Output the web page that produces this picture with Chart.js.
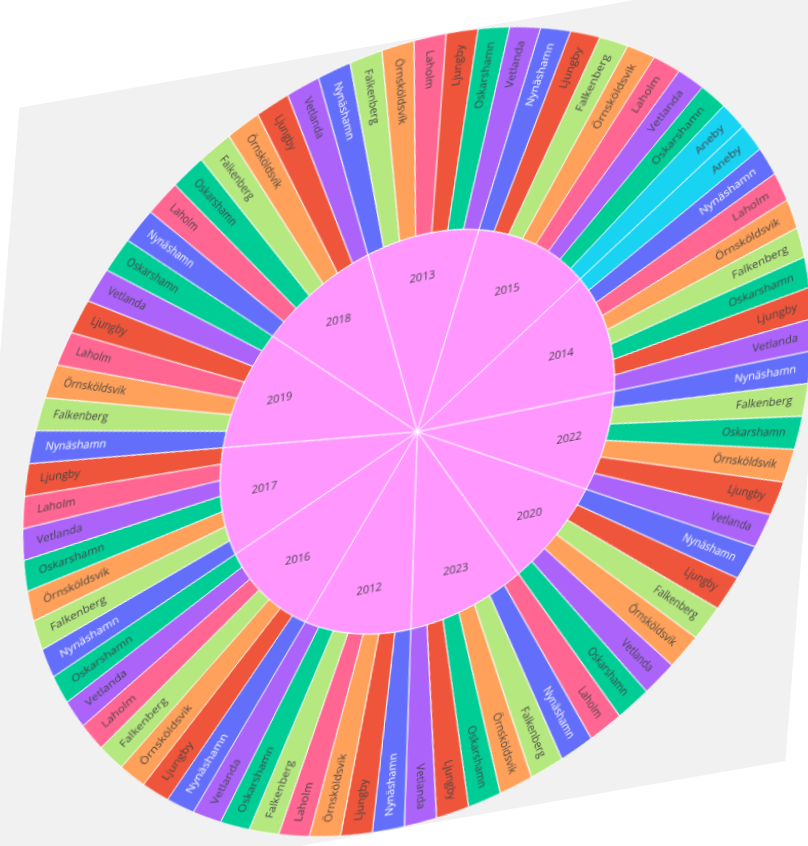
<!DOCTYPE html>
<html>
<head>
<meta charset="utf-8">
<title>Sunburst</title>
<script src="https://cdn.jsdelivr.net/npm/chart.js@4.4.0/dist/chart.umd.min.js"></script>
<style>
    html, body { margin: 0; padding: 0; width: 808px; height: 846px; overflow: hidden; background: #fff; }
    #paper {
        position: absolute; left: 0; top: 0; width: 800px; height: 800px;
        background: #f1f1f1;
        transform-origin: 0 0;
        transform: matrix(1.0354, -0.1812, -0.0778, 0.9978, 19.3, 107.7);
    }
    #wrap {
        position: absolute; left: 0; top: 0; width: 800px; height: 800px;
        transform-origin: 0 0;
        transform: matrix(1.0049, -0.2066, -0.0535, 1.0121, 36.7, 109.5);
    }
</style>
</head>
<body>
<div id="paper"></div>
<div id="wrap"><canvas id="sunburst" width="800" height="800"></canvas></div>
<script>
// years, clockwise from 3 o'clock
const years = ["2022", "2020", "2023", "2012", "2016", "2017", "2019", "2018", "2013", "2015", "2014"];

// towns inside each year, same clockwise order (each one counts 1 row)
const towns2022 = ["Nynäshamn", "Falkenberg", "Oskarshamn", "Örnsköldsvik", "Ljungby", "Vetlanda"];
const towns2020 = ["Nynäshamn", "Ljungby", "Falkenberg", "Örnsköldsvik", "Vetlanda", "Oskarshamn"];
const towns2023 = ["Laholm", "Nynäshamn", "Falkenberg", "Örnsköldsvik", "Oskarshamn", "Ljungby", "Vetlanda"];
const towns2012 = ["Nynäshamn", "Ljungby", "Örnsköldsvik", "Laholm", "Falkenberg", "Oskarshamn", "Vetlanda"];
const towns2016 = ["Nynäshamn", "Ljungby", "Örnsköldsvik", "Falkenberg", "Laholm", "Vetlanda", "Oskarshamn"];
const towns2017 = ["Nynäshamn", "Falkenberg", "Örnsköldsvik", "Oskarshamn", "Vetlanda", "Laholm", "Ljungby"];
const towns2019 = ["Nynäshamn", "Falkenberg", "Örnsköldsvik", "Laholm", "Ljungby", "Vetlanda", "Oskarshamn"];
const towns2018 = ["Nynäshamn", "Laholm", "Oskarshamn", "Falkenberg", "Örnsköldsvik", "Ljungby", "Vetlanda"];
const towns2013 = ["Nynäshamn", "Falkenberg", "Örnsköldsvik", "Laholm", "Ljungby", "Oskarshamn", "Vetlanda"];
const towns2015 = ["Nynäshamn", "Ljungby", "Falkenberg", "Örnsköldsvik", "Laholm", "Vetlanda", "Oskarshamn", "Aneby"];
const towns2014 = ["Aneby", "Nynäshamn", "Laholm", "Örnsköldsvik", "Falkenberg", "Oskarshamn", "Ljungby", "Vetlanda"];
const rowsPerTown = 1;

const townColors = {
    "Nynäshamn": "#636efa",
    "Ljungby": "#EF553B",
    "Oskarshamn": "#00cc96",
    "Vetlanda": "#ab63fa",
    "Örnsköldsvik": "#FFA15A",
    "Aneby": "#19d3f3",
    "Laholm": "#FF6692",
    "Falkenberg": "#B6E880"
};
const yearColor = "#FF97FF";

const townsByYear = [towns2022, towns2020, towns2023, towns2012, towns2016, towns2017,
                     towns2019, towns2018, towns2013, towns2015, towns2014];

const outerText = [];
const outerValues = [];
const outerColors = [];
const outerTextColors = [];
townsByYear.forEach(list => {
    list.forEach(town => {
        outerText.push(town);
        outerValues.push(rowsPerTown);
        outerColors.push(townColors[town]);
        outerTextColors.push(town === "Nynäshamn" ? "#fff" : "#444");
    });
});
const yearValues = townsByYear.map(list => list.length * rowsPerTown);

//draws the labels like plotly does (radial outside, horizontal inside)
const sectorLabels = {
    id: "sectorLabels",
    afterDatasetsDraw(chart) {
        const ctx = chart.ctx;
        ctx.save();
        ctx.font = '11px "Open Sans"';
        ctx.textBaseline = "middle";
        chart.data.datasets.forEach((ds, di) => {
            const meta = chart.getDatasetMeta(di);
            meta.data.forEach((arc, i) => {
                const p = arc.getProps(["x", "y", "startAngle", "endAngle", "innerRadius", "outerRadius"], true);
                const mid = (p.startAngle + p.endAngle) / 2;
                ctx.fillStyle = ds.textColors ? ds.textColors[i] : "#444";
                if (ds.radial) {
                    const r = p.outerRadius * 0.965;
                    ctx.save();
                    ctx.translate(p.x, p.y);
                    if (Math.cos(mid) >= 0) {
                        ctx.rotate(mid);
                        ctx.textAlign = "right";
                        ctx.fillText(ds.sectorText[i], r, 0);
                    } else {
                        ctx.rotate(mid + Math.PI);
                        ctx.textAlign = "left";
                        ctx.fillText(ds.sectorText[i], -r, 0);
                    }
                    ctx.restore();
                } else {
                    const half = (p.endAngle - p.startAngle) / 2;
                    const d = p.outerRadius / (1 + Math.sin(half));
                    ctx.textAlign = "center";
                    ctx.fillText(ds.sectorText[i], p.x + d * Math.cos(mid), p.y + d * Math.sin(mid));
                }
            });
        });
        ctx.restore();
    }
};

const chart = new Chart(document.getElementById("sunburst").getContext("2d"), {
    type: "pie",
    data: {
        labels: outerText,
        datasets: [
            {
                data: outerValues,
                backgroundColor: outerColors,
                borderColor: "#fff",
                borderWidth: 1,
                sectorText: outerText,
                textColors: outerTextColors,
                radial: true
            },
            {
                data: yearValues,
                backgroundColor: yearColor,
                borderColor: "#fff",
                borderWidth: 1,
                sectorText: years,
                radial: false
            }
        ]
    },
    options: {
        responsive: false,
        animation: false,
        rotation: 90,
        radius: 392,
        layout: { padding: 0 },
        plugins: {
            legend: { display: false },
            tooltip: { enabled: false }
        }
    },
    plugins: [sectorLabels]
});
</script>
</body>
</html>
